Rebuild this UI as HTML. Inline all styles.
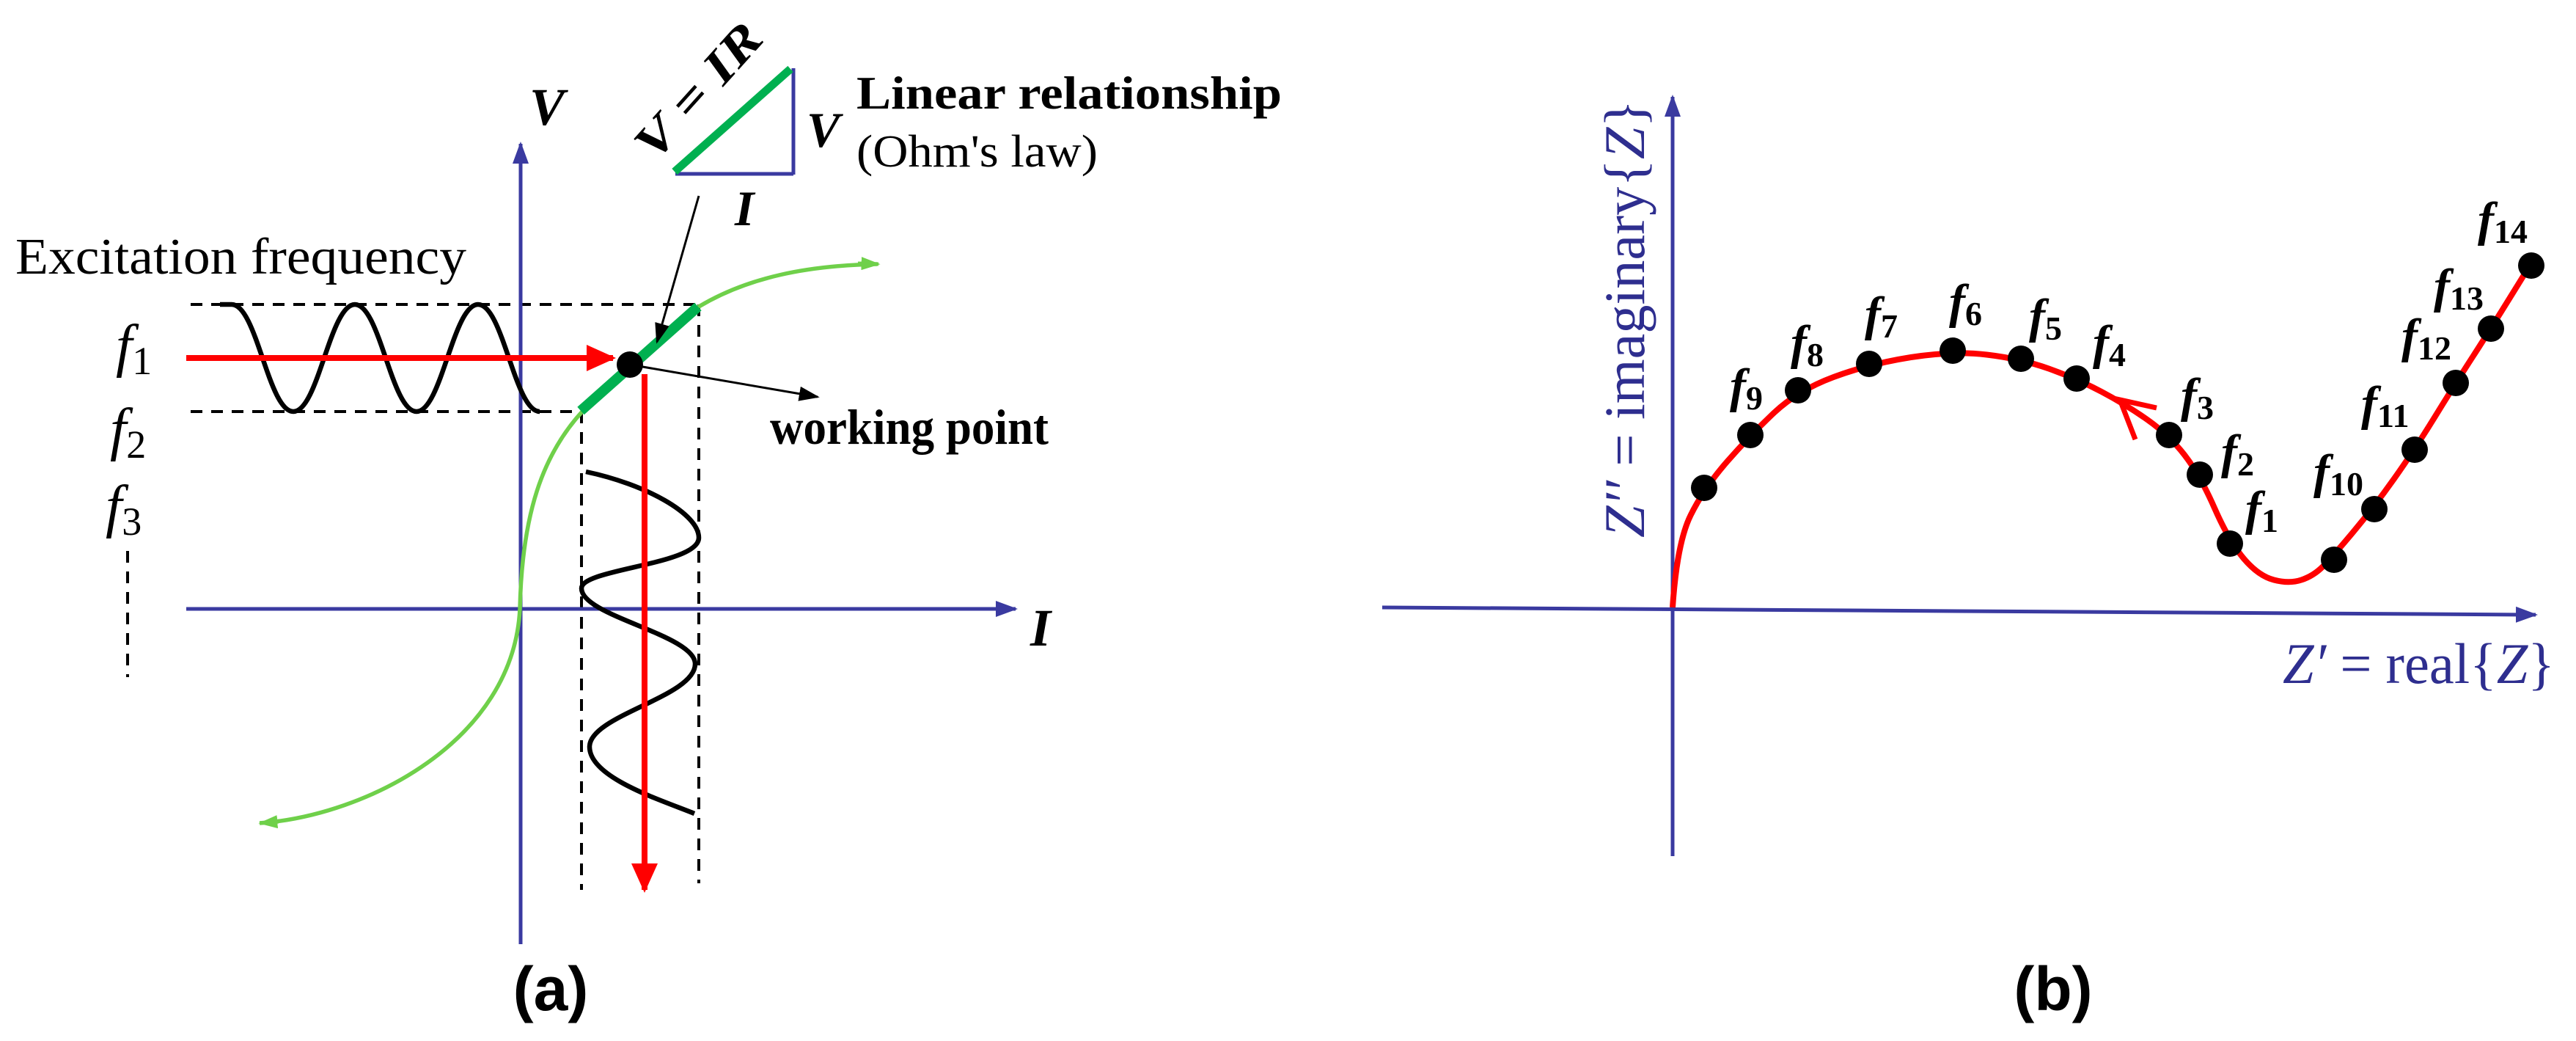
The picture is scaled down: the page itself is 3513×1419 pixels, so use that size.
<!DOCTYPE html>
<html><head><meta charset="utf-8"><style>
html,body{margin:0;padding:0;background:#fff;}
svg{display:block;}
text{font-family:"Liberation Serif",serif;}
</style></head><body>
<svg width="3513" height="1419" viewBox="0 0 3513 1419" xmlns="http://www.w3.org/2000/svg">
<defs>
<marker id="ab2" viewBox="0 0 10 10" refX="9" refY="5" markerWidth="30" markerHeight="22" orient="auto" markerUnits="userSpaceOnUse" preserveAspectRatio="none"><path d="M0,0 L10,5 L0,10 z" fill="#3a3aa0"/></marker>
<marker id="ar" viewBox="0 0 10 10" refX="9" refY="5" markerWidth="40" markerHeight="36" orient="auto" markerUnits="userSpaceOnUse" preserveAspectRatio="none"><path d="M0,0 L10,5 L0,10 z" fill="#ff0000"/></marker>
<marker id="ak" viewBox="0 0 10 10" refX="9" refY="5" markerWidth="28" markerHeight="20" orient="auto" markerUnits="userSpaceOnUse" preserveAspectRatio="none"><path d="M0,0 L10,5 L0,10 z" fill="#000"/></marker>
<marker id="ag" viewBox="0 0 10 10" refX="9" refY="5" markerWidth="26" markerHeight="18" orient="auto" markerUnits="userSpaceOnUse" preserveAspectRatio="none"><path d="M0,0 L10,5 L0,10 z" fill="#6fd04a"/></marker>
</defs>

<g stroke="#000" stroke-width="4" stroke-dasharray="16,12" fill="none">
<line x1="260" y1="415" x2="953" y2="415"/>
<line x1="260" y1="561" x2="793" y2="561"/>
<line x1="793" y1="561" x2="793" y2="1213"/>
<line x1="953" y1="415" x2="953" y2="1204"/>
<line x1="174" y1="751" x2="174" y2="923"/>
</g>
<line x1="710" y1="1287" x2="710" y2="196" stroke="#3a3aa0" stroke-width="5" marker-end="url(#ab2)"/>
<line x1="254" y1="830" x2="1385" y2="830" stroke="#3a3aa0" stroke-width="5" marker-end="url(#ab2)"/>
<text x="722" y="170" font-size="72" font-weight="bold" font-style="italic">V</text>
<text x="1405" y="880" font-size="72" font-weight="bold" font-style="italic">I</text>

<path d="M 354 1122 C 500 1112, 700 1010, 709 830 C 712 700, 740 620, 794 561 L 953 418 C 1020 378, 1100 362, 1196 360" fill="none" stroke="#6fd04a" stroke-width="5.5"/>
<line x1="380" y1="1120" x2="355" y2="1122" stroke="#6fd04a" stroke-width="5" marker-end="url(#ag)"/>
<line x1="1170" y1="359" x2="1198" y2="360" stroke="#6fd04a" stroke-width="5" marker-end="url(#ag)"/>
<line x1="792" y1="560" x2="952" y2="418" stroke="#00b050" stroke-width="14"/>

<path d="M 300 415 L 316 415 C 350 415, 366 561, 400 561 C 434 561, 450 415, 484 415 C 518 415, 534 561, 568 561 C 602 561, 618 415, 652 415 C 686 415, 702 561, 736 561" fill="none" stroke="#000" stroke-width="6.5"/>
<path d="M 799 643 C 880 660, 953 700, 953 733 C 953 770, 793 775, 793 802 C 793 840, 948 865, 948 905 C 948 950, 804 975, 804 1018 C 804 1060, 900 1090, 947 1109" fill="none" stroke="#000" stroke-width="6.5"/>

<line x1="254" y1="488" x2="836" y2="488" stroke="#ff0000" stroke-width="8" marker-end="url(#ar)"/>
<line x1="879" y1="510" x2="879" y2="1213" stroke="#ff0000" stroke-width="8" marker-end="url(#ar)"/>

<line x1="953" y1="267" x2="896" y2="466" stroke="#000" stroke-width="3" marker-end="url(#ak)"/>
<line x1="859" y1="497" x2="1115" y2="541" stroke="#000" stroke-width="3" marker-end="url(#ak)"/>
<circle cx="859" cy="497" r="18" fill="#000"/>

<line x1="1082" y1="93" x2="1082" y2="238" stroke="#3a3aa0" stroke-width="5"/>
<line x1="921" y1="237" x2="1082" y2="237" stroke="#3a3aa0" stroke-width="5"/>
<line x1="920" y1="234" x2="1078" y2="94" stroke="#00b050" stroke-width="11"/>
<text transform="translate(893,222) rotate(-48)" font-size="66" font-weight="bold" font-style="italic" textLength="225" lengthAdjust="spacingAndGlyphs">V = IR</text>
<text x="1100" y="200" font-size="68" font-weight="bold" font-style="italic">V</text>
<text x="1002" y="307" font-size="68" font-weight="bold" font-style="italic">I</text>
<text x="1168" y="148" font-size="64" font-weight="bold" textLength="580" lengthAdjust="spacingAndGlyphs">Linear relationship</text>
<text x="1168" y="227" font-size="62" textLength="329" lengthAdjust="spacingAndGlyphs">(Ohm's law)</text>
<text x="1050" y="605" font-size="68" font-weight="bold" textLength="380" lengthAdjust="spacingAndGlyphs">working point</text>

<text x="21" y="373" font-size="70" textLength="615" lengthAdjust="spacingAndGlyphs">Excitation frequency</text>
<g font-style="italic" font-size="80">
<text x="158" y="498">f<tspan font-style="normal" font-size="54" dy="12">1</tspan></text>
<text x="150" y="612">f<tspan font-style="normal" font-size="54" dy="12">2</tspan></text>
<text x="144" y="717">f<tspan font-style="normal" font-size="54" dy="12">3</tspan></text>
</g>
<text x="751" y="1377" font-size="84" font-weight="bold" text-anchor="middle" style="font-family:'Liberation Sans',sans-serif">(a)</text>

<line x1="2281" y1="1167" x2="2281" y2="132" stroke="#3a3aa0" stroke-width="5" marker-end="url(#ab2)"/>
<line x1="1885" y1="828" x2="3458" y2="838" stroke="#3a3aa0" stroke-width="5" marker-end="url(#ab2)"/>
<text transform="translate(2242,733) rotate(-90)" font-size="78" fill="#2e2e8f" textLength="597" lengthAdjust="spacingAndGlyphs"><tspan font-style="italic">Z′′</tspan> = imaginary{<tspan font-style="italic">Z</tspan>}</text>
<text x="3113" y="931" font-size="78" fill="#2e2e8f" textLength="371" lengthAdjust="spacingAndGlyphs"><tspan font-style="italic">Z′</tspan> = real{<tspan font-style="italic">Z</tspan>}</text>

<path d="M2281 828 Q2287 740 2305.5 702.5 Q2324 665 2355.5 629 Q2387 593 2419.5 562.5 Q2452 532 2500.5 514 Q2549 496 2606 487 Q2663 478 2709.5 483.5 Q2756 489 2794 502.5 Q2832 516 2866 534 Q2900 552 2929 572.5 Q2958 593 2979 620 Q3000 647 3020 692.5 Q3040 738 3060 761.5 Q3080 785 3101 790.5 Q3122 796 3138.5 790.5 Q3155 785 3167.5 772.5 Q3180 760 3208.5 726 Q3237 692 3265 652.5 Q3293 613 3321 567.5 Q3349 522 3373 485 Q3397 448 3450 362" fill="none" stroke="#ff0000" stroke-width="8"/>
<path d="M2941 556 L2891 545 L2912 599" fill="none" stroke="#ff0000" stroke-width="7"/>
<g fill="#000">
<circle cx="2324" cy="665" r="18"/><circle cx="2387" cy="593" r="18"/><circle cx="2452" cy="532" r="18"/>
<circle cx="2549" cy="496" r="18"/><circle cx="2663" cy="478" r="18"/><circle cx="2756" cy="489" r="18"/>
<circle cx="2832" cy="516" r="18"/><circle cx="2958" cy="593" r="18"/><circle cx="3000" cy="647" r="18"/>
<circle cx="3041" cy="741" r="18"/><circle cx="3183" cy="763" r="18"/><circle cx="3238" cy="694" r="18"/>
<circle cx="3293" cy="613" r="18"/><circle cx="3349" cy="522" r="18"/><circle cx="3397" cy="448" r="18"/>
<circle cx="3452" cy="362" r="18"/>
</g>
<g font-style="italic" font-size="66" font-weight="bold">
<text x="3062" y="715">f<tspan font-style="normal" font-size="46" dy="10">1</tspan></text>
<text x="3029" y="638">f<tspan font-style="normal" font-size="46" dy="10">2</tspan></text>
<text x="2974" y="561">f<tspan font-style="normal" font-size="46" dy="10">3</tspan></text>
<text x="2854" y="489">f<tspan font-style="normal" font-size="46" dy="10">4</tspan></text>
<text x="2767" y="453">f<tspan font-style="normal" font-size="46" dy="10">5</tspan></text>
<text x="2658" y="433">f<tspan font-style="normal" font-size="46" dy="10">6</tspan></text>
<text x="2543" y="450">f<tspan font-style="normal" font-size="46" dy="10">7</tspan></text>
<text x="2442" y="489">f<tspan font-style="normal" font-size="46" dy="10">8</tspan></text>
<text x="2359" y="548">f<tspan font-style="normal" font-size="46" dy="10">9</tspan></text>
<text x="3155" y="665">f<tspan font-style="normal" font-size="46" dy="10">10</tspan></text>
<text x="3220" y="572">f<tspan font-style="normal" font-size="46" dy="10">11</tspan></text>
<text x="3275" y="480">f<tspan font-style="normal" font-size="46" dy="10">12</tspan></text>
<text x="3319" y="412">f<tspan font-style="normal" font-size="46" dy="10">13</tspan></text>
<text x="3379" y="321">f<tspan font-style="normal" font-size="46" dy="10">14</tspan></text>
</g>
<text x="2800" y="1377" font-size="84" font-weight="bold" text-anchor="middle" style="font-family:'Liberation Sans',sans-serif">(b)</text>
</svg>
</body></html>
